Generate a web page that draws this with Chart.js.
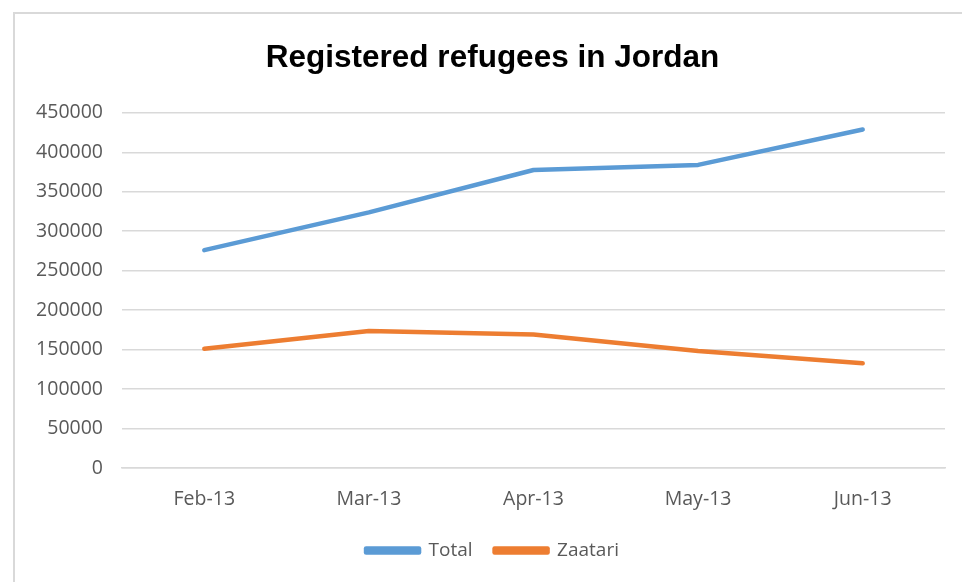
<!DOCTYPE html>
<html>
<head>
<meta charset="utf-8">
<script src="https://cdn.jsdelivr.net/npm/chart.js@4.4.0/dist/chart.umd.min.js"></script>
<style>
  html, body { margin: 0; padding: 0; background: #ffffff; }
  #wrap { position: relative; width: 962px; height: 582px; overflow: hidden; }
  #frame { position: absolute; left: 13px; top: 12px; width: 1000px; height: 1000px;
           border-top: 2px solid #d9d9d9; border-left: 2px solid #d9d9d9; box-sizing: border-box; }
  canvas { position: absolute; left: 0; top: 0; }
</style>
</head>
<body>
<div id="wrap">
  <div id="frame"></div>
  <canvas id="c" width="962" height="582"></canvas>
</div>
<script>
const categories = ["Feb-13", "Mar-13", "Apr-13", "May-13", "Jun-13"];
const totalValues = [276000, 323800, 377600, 384000, 428800];
const zaatariValues = [151200, 173600, 169000, 148300, 132700];
const yTicks = [0, 50000, 100000, 150000, 200000, 250000, 300000, 350000, 400000, 450000];
const titleText = "Registered refugees in Jordan";

const tickFont = { family: "'Open Sans', 'Liberation Sans', sans-serif", size: 19.5 };

// shift the title and legend boxes so they are centred like the reference
const centerShift = {
  id: 'centerShift',
  afterLayout(chart) {
    if (chart.titleBlock) chart.titleBlock.left = 40;
    if (chart.legend) chart.legend.left = 40;
  }
};

new Chart(document.getElementById('c'), {
  type: 'line',
  data: {
    labels: categories,
    datasets: [
      { label: 'Total', data: totalValues, borderColor: '#5B9BD5', backgroundColor: '#5B9BD5',
        borderWidth: 4.5, pointRadius: 0, tension: 0, borderCapStyle: 'round', borderJoinStyle: 'round' },
      { label: 'Zaatari', data: zaatariValues, borderColor: '#ED7D31', backgroundColor: '#ED7D31',
        borderWidth: 4.5, pointRadius: 0, tension: 0, borderCapStyle: 'round', borderJoinStyle: 'round' }
    ]
  },
  plugins: [centerShift],
  options: {
    responsive: false,
    animation: false,
    layout: { padding: { top: 0, bottom: 12, left: 0, right: 17 } },
    plugins: {
      tooltip: { enabled: false },
      title: {
        display: true, text: titleText, color: '#000000',
        font: { family: "'Liberation Sans', sans-serif", size: 31.5, weight: 'bold' },
        padding: { top: 39, bottom: 36 }
      },
      legend: {
        position: 'bottom',
        labels: {
          boxWidth: 53, boxHeight: 4, padding: 22, color: '#595959',
          font: { family: "'Open Sans', 'Liberation Sans', sans-serif", size: 19 }
        }
      }
    },
    scales: {
      x: {
        offset: true,
        grid: { display: false, drawTicks: false },
        border: { display: true, color: '#d9d9d9', width: 1.5 },
        ticks: { color: '#595959', font: tickFont, padding: 20, maxRotation: 0 },
        afterFit: (s) => { s.height = 51; }
      },
      y: {
        min: 0, max: 450000,
        afterBuildTicks: (s) => { s.ticks = yTicks.map(v => ({ value: v })); },
        grid: { color: '#d9d9d9', lineWidth: 1.5, drawTicks: false },
        border: { display: false },
        ticks: { color: '#595959', font: tickFont, padding: 19, callback: (v) => String(v) },
        afterFit: (s) => { s.width = 122; }
      }
    }
  }
});
</script>
</body>
</html>
